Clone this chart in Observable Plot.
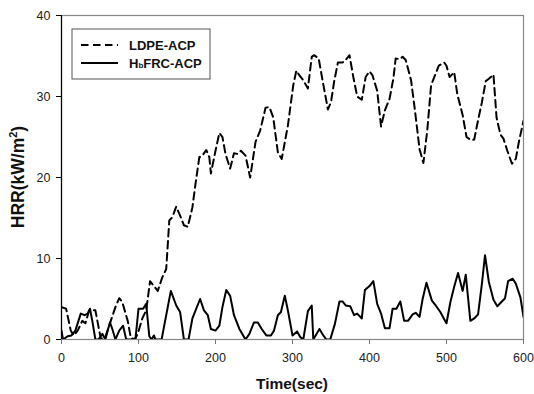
<!DOCTYPE html>
<html>
<head>
<meta charset="utf-8">
<script src="https://cdn.jsdelivr.net/npm/d3@7"></script>
<script src="https://cdn.jsdelivr.net/npm/@observablehq/plot@0.6"></script>
<style>
  body { margin: 0; background: #fff; }
  #chart svg { display: block; }
</style>
</head>
<body>
<div id="chart"></div>
<script>
const seriesNames = ["LDPE-ACP", "HbFRC-ACP"];
const xTicks = [0, 100, 200, 300, 400, 500, 600];
const yTicks = [0, 10, 20, 30, 40];

const ldpeTime = [0,6,12,16,21,27,31,36,44,51,57,64,70,75,79,86,90,95,99,105,110,115,120,125,131,136,140,144,149,154,159,164,170,174,179,183,188,192,194,200,205,209,213,219,224,229,233,239,245,252,258,265,270,275,281,286,294,301,305,309,314,320,325,328,334,339,346,350,354,359,365,369,374,379,384,390,395,400,404,410,415,420,426,431,434,439,443,447,454,459,465,470,475,480,485,490,497,500,504,510,514,521,526,532,536,540,546,551,555,561,565,570,574,579,585,590,594,600];
const ldpeHRR = [4.0,3.8,1.1,0.5,1.1,2.3,2.0,3.6,3.6,0.1,0.3,2.3,4.0,5.1,4.6,2.3,0.2,0,0.7,2.6,3.6,7.2,6.6,6.0,7.7,8.7,14.7,15.1,16.4,15.3,14.1,13.9,16.3,19.2,22.5,22.7,23.4,22.5,20.5,23.3,25.5,25.0,22.9,21.1,23.0,22.9,23.3,22.7,20.0,24.4,25.8,28.6,28.7,27.4,23.1,22.3,26.4,31.4,33.2,32.6,32.0,31.0,34.9,35.1,34.7,32.0,28.4,29.3,31.8,34.2,34.2,34.5,35.1,32.4,30.0,29.6,32.4,33.1,32.6,30.7,26.3,28.3,29.7,32.2,34.7,34.6,34.9,34.5,32.0,28.3,23.5,21.8,25.8,31.4,32.6,33.8,34.2,33.8,32.4,33.0,30.3,27.7,25.0,24.6,24.7,26.6,29.3,31.9,32.2,32.7,27.4,25.3,24.8,23.3,21.7,22.3,24.4,27.0];

const hbfrcTime = [0,2,8,13,18,25,30,34,37,40,44,48,53,57,60,63,66,70,75,80,84,96,100,106,110,114,117,120,122,130,142,149,154,159,165,170,180,185,190,194,200,205,209,214,219,224,231,239,244,250,255,260,266,272,276,281,285,290,294,300,306,310,314,320,325,327,335,340,344,349,355,361,365,369,375,380,384,390,394,400,405,410,415,420,426,430,435,440,445,450,456,460,465,469,474,481,486,492,497,500,505,510,515,521,525,531,536,541,546,550,555,561,566,571,576,580,586,590,596,600];
const hbfrcHRR = [1.1,0,0.4,0.5,1.1,3.2,3.0,3.2,3.8,2.3,0,0,0.7,0,1.1,2.1,1.3,0,1.1,1.7,0,0,3.8,3.8,4.4,0.4,0,0.5,0,0,6.0,4.2,3.4,0,0,2.6,5.0,3.6,3.0,1.3,1.1,1.7,4.0,6.1,5.4,3.0,1.3,0,0.7,2.1,2.1,1.3,0.5,0.5,1.1,3.0,3.4,5.4,3.6,0.5,1.0,0.3,0,3.5,4.2,0,1.3,0.5,0,0,1.9,4.7,4.7,4.2,4.1,3.0,3.2,2.6,6.1,6.6,7.2,4.4,3.2,1.4,1.4,3.8,3.8,4.7,2.3,2.3,3.1,3.3,2.8,5.0,7.0,4.8,4.2,3.4,2.5,2.0,4.6,6.5,8.2,6.0,8.0,2.3,2.6,3.1,6.9,10.4,7.1,4.9,4.1,4.6,5.1,7.2,7.5,6.9,5.2,2.8];

const ldpe = ldpeTime.map((t, i) => ({t, v: ldpeHRR[i]}));
const hbfrc = hbfrcTime.map((t, i) => ({t, v: hbfrcHRR[i]}));

const W = 534, H = 394;
const mL = 61, mR = 11, mT = 15, mB = 55;
const font = "'Liberation Sans', Arial, sans-serif";

const plot = Plot.plot({
  width: W, height: H,
  marginLeft: mL, marginRight: mR, marginTop: mT, marginBottom: mB,
  style: {fontFamily: font, fontSize: "12.5px", color: "#222", background: "#fff"},
  x: {domain: [0, 600]},
  y: {domain: [0, 40]},
  marks: [
    Plot.frame({stroke: "#888", strokeWidth: 1.2}),
    Plot.line(ldpe, {x: "t", y: "v", stroke: "#000", strokeWidth: 2, strokeDasharray: "7.5,4.5", clip: true}),
    Plot.line(hbfrc, {x: "t", y: "v", stroke: "#000", strokeWidth: 2, clip: true}),
    Plot.ruleX([0], {stroke: "#000", strokeWidth: 1.2}),
    Plot.axisX({ticks: xTicks, tickSize: 5, tickPadding: 9, label: null, stroke: "#777", tickFormat: d => String(d)}),
    Plot.axisY({ticks: yTicks, tickSize: 5, tickPadding: 6, label: null, stroke: "#000", tickFormat: d => String(d)})
  ]
});

document.getElementById("chart").appendChild(plot);

const svg = d3.select(plot);

// axis titles
svg.append("text")
  .attr("x", mL + (W - mL - mR) / 2)
  .attr("y", 389)
  .attr("text-anchor", "middle")
  .style("font-family", font).style("font-weight", "bold").style("font-size", "15.5px")
  .attr("fill", "#111")
  .text("Time(sec)");

const yt = svg.append("text")
  .attr("transform", `translate(24,${mT + (H - mT - mB) / 2}) rotate(-90)`)
  .attr("text-anchor", "middle")
  .style("font-family", font).style("font-weight", "bold").style("font-size", "17.5px")
  .attr("fill", "#111");
yt.append("tspan").text("HRR(kW/m");
yt.append("tspan").attr("dy", "-7").style("font-size", "11px").text("2");
yt.append("tspan").attr("dy", "7").text(")");

// legend
const lg = svg.append("g").attr("text-anchor", "start");
lg.append("rect").attr("x", 72).attr("y", 29).attr("width", 138).attr("height", 50)
  .attr("fill", "#fff").attr("stroke", "#555").attr("stroke-width", 1);
lg.append("line").attr("x1", 81).attr("x2", 118).attr("y1", 45).attr("y2", 45)
  .attr("stroke", "#000").attr("stroke-width", 2).attr("stroke-dasharray", "7.5,4.5");
lg.append("line").attr("x1", 81).attr("x2", 118).attr("y1", 63).attr("y2", 63)
  .attr("stroke", "#000").attr("stroke-width", 2);
lg.append("text").attr("x", 129).attr("y", 50).attr("text-anchor", "start")
  .style("font-family", font).style("font-weight", "bold").style("font-size", "13px")
  .attr("fill", "#111").text(seriesNames[0]);
const t2 = lg.append("text").attr("x", 129).attr("y", 68).attr("text-anchor", "start")
  .style("font-family", font).style("font-weight", "bold").style("font-size", "13px")
  .attr("fill", "#111");
t2.append("tspan").text("H");
t2.append("tspan").style("font-size", "8px").text("b");
t2.append("tspan").text("FRC-ACP");
</script>
</body>
</html>
